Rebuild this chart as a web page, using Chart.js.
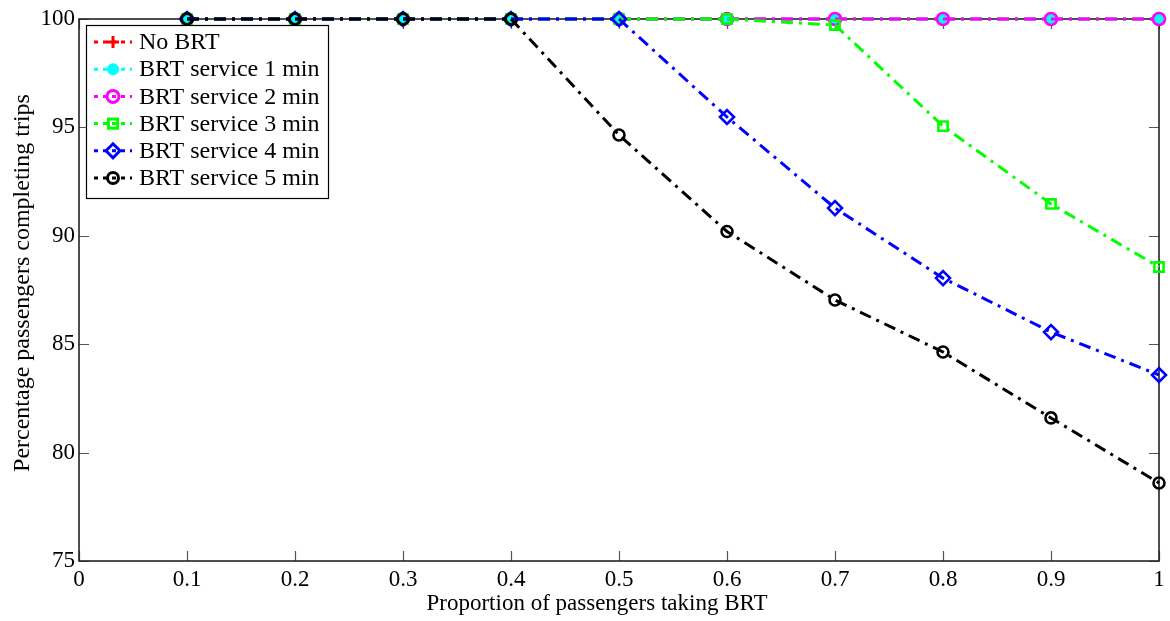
<!DOCTYPE html>
<html>
<head>
<meta charset="utf-8">
<script src="https://cdn.jsdelivr.net/npm/chart.js@4.4.0/dist/chart.umd.min.js"></script>
<style>
  html, body { margin: 0; padding: 0; background: #fff; }
  #wrap { width: 1170px; height: 621px; }
</style>
</head>
<body>
<div id="wrap"><canvas id="c" width="1170" height="621"></canvas></div>
<script>
// Proportion of passengers taking BRT (x) and share completing trips (%)
const proportions = [0.1, 0.2, 0.3, 0.4, 0.5, 0.6, 0.7, 0.8, 0.9, 1.0];
const noBrt    = [100, 100, 100, 100, 100, 100, 100, 100, 100, 100];
const service1 = [100, 100, 100, 100, 100, 100, 100, 100, 100, 100];
const service2 = [100, 100, 100, 100, 100, 100, 100, 100, 100, 100];
const service3 = [100, 100, 100, 100, 100, 100, 99.72, 95.06, 91.47, 88.56];
const service4 = [100, 100, 100, 100, 100, 95.48, 91.28, 88.05, 85.56, 83.58];
const service5 = [100, 100, 100, 100, 94.65, 90.2, 87.04, 84.64, 81.6, 78.6];

const seriesNames = ['No BRT', 'BRT service 1 min', 'BRT service 2 min',
                     'BRT service 3 min', 'BRT service 4 min', 'BRT service 5 min'];

const xTicks = [0, 0.1, 0.2, 0.3, 0.4, 0.5, 0.6, 0.7, 0.8, 0.9, 1];
const xTickLabels = ['0', '0.1', '0.2', '0.3', '0.4', '0.5', '0.6', '0.7', '0.8', '0.9', '1'];
const yTicks = [75, 80, 85, 90, 95, 100];

const xTitle = 'Proportion of passengers taking BRT';
const yTitle = 'Percentage passengers completing trips';

const FONT = 'Liberation Serif';
const DASH = [12, 6, 3, 6];

function pts(values) {
  return values.map((v, i) => ({ x: proportions[i], y: v }));
}

const styles = [
  { color: '#ff0000', pointStyle: 'cross',   radius: 6,   fill: 'rgba(0,0,0,0)' },
  { color: '#00ffff', pointStyle: 'circle',  radius: 4.5, fill: '#00ffff' },
  { color: '#ff00ff', pointStyle: 'circle',  radius: 6,   fill: 'rgba(0,0,0,0)' },
  { color: '#00ff00', pointStyle: 'rect',    radius: 6.5, fill: 'rgba(0,0,0,0)' },
  { color: '#0000ff', pointStyle: 'rectRot', radius: 7,   fill: 'rgba(0,0,0,0)' },
  { color: '#000000', pointStyle: 'circle',  radius: 5.5, fill: 'rgba(0,0,0,0)' }
];
const seriesValues = [noBrt, service1, service2, service3, service4, service5];

const datasets = seriesValues.map((vals, i) => ({
  label: seriesNames[i],
  data: pts(vals),
  borderColor: styles[i].color,
  backgroundColor: styles[i].fill,
  borderWidth: 3,
  borderDash: DASH,
  pointStyle: styles[i].pointStyle,
  pointRadius: styles[i].radius,
  pointBorderColor: styles[i].color,
  pointBackgroundColor: styles[i].fill,
  pointBorderWidth: 2.6,
  fill: false,
  tension: 0,
  clip: false,
  // later series are painted over earlier ones
  order: seriesValues.length - i
}));

// Boxed axes with inward tick marks on all four sides
const boxAxes = {
  id: 'boxAxes',
  beforeDatasetsDraw(chart) {
    const { ctx, chartArea: a, scales: { x, y } } = chart;
    ctx.save();
    ctx.strokeStyle = '#555';
    ctx.lineWidth = 1.2;
    const tl = 10;
    ctx.beginPath();
    xTicks.forEach(v => {
      const px = Math.round(x.getPixelForValue(v)) + 0.5;
      ctx.moveTo(px, a.bottom); ctx.lineTo(px, a.bottom - tl);
      ctx.moveTo(px, a.top);    ctx.lineTo(px, a.top + tl);
    });
    yTicks.forEach(v => {
      const py = Math.round(y.getPixelForValue(v)) + 0.5;
      ctx.moveTo(a.left, py);  ctx.lineTo(a.left + tl, py);
      ctx.moveTo(a.right, py); ctx.lineTo(a.right - tl, py);
    });
    ctx.stroke();
    ctx.strokeStyle = '#222';
    ctx.lineWidth = 1.6;
    ctx.strokeRect(a.left, a.top, a.right - a.left, a.bottom - a.top);
    ctx.restore();
  }
};

// Axis titles
const axisTitles = {
  id: 'axisTitles',
  afterDraw(chart) {
    const { ctx, chartArea: a } = chart;
    ctx.save();
    ctx.fillStyle = '#000';
    ctx.textAlign = 'center';
    ctx.textBaseline = 'alphabetic';
    ctx.font = '23px "' + FONT + '"';
    ctx.fillText(xTitle, (a.left + a.right) / 2 - 22, 610);
    ctx.translate(29, (a.top + a.bottom) / 2 - 7);
    ctx.rotate(-Math.PI / 2);
    ctx.font = '24px "' + FONT + '"';
    ctx.fillText(yTitle, 0, 0);
    ctx.restore();
  }
};

// Legend box in the upper-left corner of the plot
const boxLegend = {
  id: 'boxLegend',
  afterDraw(chart) {
    const { ctx, chartArea: a } = chart;
    const left = a.left + 7, top = a.top + 6, w = 242, h = 173, rowH = 27.2;
    ctx.save();
    ctx.fillStyle = '#fff';
    ctx.fillRect(left, top, w, h);
    ctx.strokeStyle = '#000';
    ctx.lineWidth = 1.2;
    ctx.strokeRect(left + 0.5, top + 0.5, w, h);
    chart.data.datasets.forEach((ds, i) => {
      const cy = top + 17 + i * rowH;
      const x0 = left + 8, x1 = left + 46, xm = (x0 + x1) / 2;
      ctx.strokeStyle = ds.borderColor;
      ctx.lineWidth = 3;
      ctx.setLineDash([4, 5]);
      ctx.beginPath();
      ctx.moveTo(x0, cy); ctx.lineTo(x1, cy);
      ctx.stroke();
      ctx.setLineDash([]);
      ctx.fillStyle = ds.pointBackgroundColor;
      ctx.strokeStyle = ds.pointBorderColor;
      Chart.helpers.drawPoint(ctx, {
        pointStyle: ds.pointStyle, rotation: 0,
        radius: ds.pointRadius, borderWidth: 2.6
      }, xm, cy);
      ctx.fillStyle = '#000';
      ctx.font = '24px "' + FONT + '"';
      ctx.textBaseline = 'middle';
      ctx.textAlign = 'left';
      ctx.fillText(ds.label, left + 53, cy + 1);
    });
    ctx.restore();
  }
};

new Chart(document.getElementById('c'), {
  type: 'line',
  data: { datasets },
  options: {
    responsive: false,
    animation: false,
    devicePixelRatio: 1,
    layout: { padding: { left: 0, top: 19, right: 11, bottom: 0 } },
    plugins: { legend: { display: false }, tooltip: { enabled: false } },
    scales: {
      x: {
        type: 'linear',
        min: 0, max: 1,
        afterBuildTicks(scale) { scale.ticks = xTicks.map(v => ({ value: v })); },
        afterFit(scale) { scale.height = 60; },
        grid: { display: false, drawTicks: false },
        border: { display: false },
        ticks: {
          color: '#000',
          padding: 5,
          maxRotation: 0,
          font: { family: FONT, size: 23 },
          callback: (v) => xTickLabels[xTicks.indexOf(v)] ?? String(v)
        }
      },
      y: {
        type: 'linear',
        min: 75, max: 100,
        afterBuildTicks(scale) { scale.ticks = yTicks.map(v => ({ value: v })); },
        afterFit(scale) { scale.width = 79; },
        grid: { display: false, drawTicks: false },
        border: { display: false },
        ticks: {
          color: '#000',
          padding: 4,
          font: { family: FONT, size: 23 }
        }
      }
    }
  },
  plugins: [boxAxes, axisTitles, boxLegend]
});
</script>
</body>
</html>
